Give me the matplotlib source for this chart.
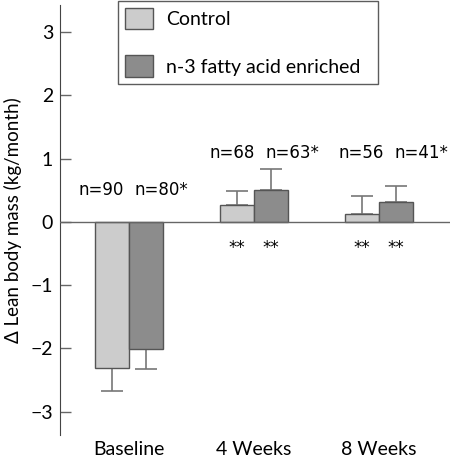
import numpy as np
import matplotlib
matplotlib.use("Agg")
import matplotlib.pyplot as plt

plt.rcParams['font.family'] = ['Lato', 'DejaVu Sans']

# data
groups = ['Baseline', '4 Weeks', '8 Weeks']
control = [-2.31, 0.26, 0.13]
control_err = [0.36, 0.23, 0.28]
enriched = [-2.01, 0.51, 0.31]
enriched_err = [0.32, 0.32, 0.26]
n_control = ['n=90', 'n=68', 'n=56']
n_enriched = ['n=80*', 'n=63*', 'n=41*']
n_label_y = [0.50, 1.09, 1.09]
stars_control = ['', '**', '**']
stars_enriched = ['', '**', '**']

light = '#cccccc'
dark = '#8c8c8c'
edge = '#555555'
errc = '#777777'

fig = plt.figure(figsize=(4.52, 4.59), dpi=100)
ax = fig.add_axes([60 / 452, 24 / 459, 390 / 452, 430 / 459])

x = np.arange(len(groups))
w = 0.272
label_shift = [0.0, 0.05, 0.08]   # the n= pairs sit a bit right of centre
label_gap = 0.045

def one_sided(vals, errs):
    lo = [e if v < 0 else 0 for v, e in zip(vals, errs)]
    hi = [e if v >= 0 else 0 for v, e in zip(vals, errs)]
    return [lo, hi]

ax.bar(x - w / 2, control, w, color=light, edgecolor=edge, linewidth=1.0,
       label='Control', zorder=2)
ax.bar(x + w / 2, enriched, w, color=dark, edgecolor=edge, linewidth=1.0,
       label='n-3 fatty acid enriched', zorder=2)
ax.errorbar(x - w / 2, control, yerr=one_sided(control, control_err), fmt='none',
            ecolor=errc, elinewidth=1.2, capsize=8, capthick=1.2, zorder=1)
ax.errorbar(x + w / 2, enriched, yerr=one_sided(enriched, enriched_err), fmt='none',
            ecolor=errc, elinewidth=1.2, capsize=8, capthick=1.2, zorder=1)

ax.axhline(0, color='#666666', linewidth=1.0, zorder=3)

for i in range(len(groups)):
    cx = x[i] + label_shift[i]
    ax.text(cx - label_gap, n_label_y[i], n_control[i], ha='right', va='center',
            fontsize=12, family='DejaVu Sans')
    ax.text(cx + label_gap, n_label_y[i], n_enriched[i], ha='left',
            va='center', fontsize=12, family='DejaVu Sans')
    ax.text(x[i] - w / 2, -0.49, stars_control[i], ha='center', va='baseline',
            fontsize=12, family='DejaVu Sans')
    ax.text(x[i] + w / 2, -0.49, stars_enriched[i], ha='center', va='baseline',
            fontsize=12, family='DejaVu Sans')

ax.set_xlim(-0.552, 2.568)
ax.set_ylim(-3.37, 3.43)
ax.set_yticks([-3, -2, -1, 0, 1, 2, 3])
ax.set_yticklabels(['\u22123', '\u22122', '\u22121', '0', '1', '2', '3'])
ax.set_xticks(x)
ax.set_xticklabels(groups)
ax.tick_params(axis='y', direction='in', length=8, width=1, color='#666666',
               labelsize=14, pad=5)
ax.tick_params(axis='x', length=0, labelsize=14, pad=4)
for s in ['top', 'right', 'bottom']:
    ax.spines[s].set_visible(False)
ax.spines['left'].set_color('#444444')
ax.set_ylabel('\u0394 Lean body mass (kg/month)', fontsize=13.5, labelpad=6)

leg = ax.legend(loc='upper left',
                bbox_to_anchor=(118 / 452, 0, 260 / 452, 458 / 459),
                bbox_transform=fig.transFigure, borderaxespad=0, mode='expand',
                fancybox=False, edgecolor='#333333', fontsize=14,
                handlelength=1.45, handleheight=1.3, labelspacing=1.35,
                borderpad=0.36, handletextpad=0.65)
leg.get_frame().set_linewidth(1.0)

fig.savefig('out.png', dpi=100)
